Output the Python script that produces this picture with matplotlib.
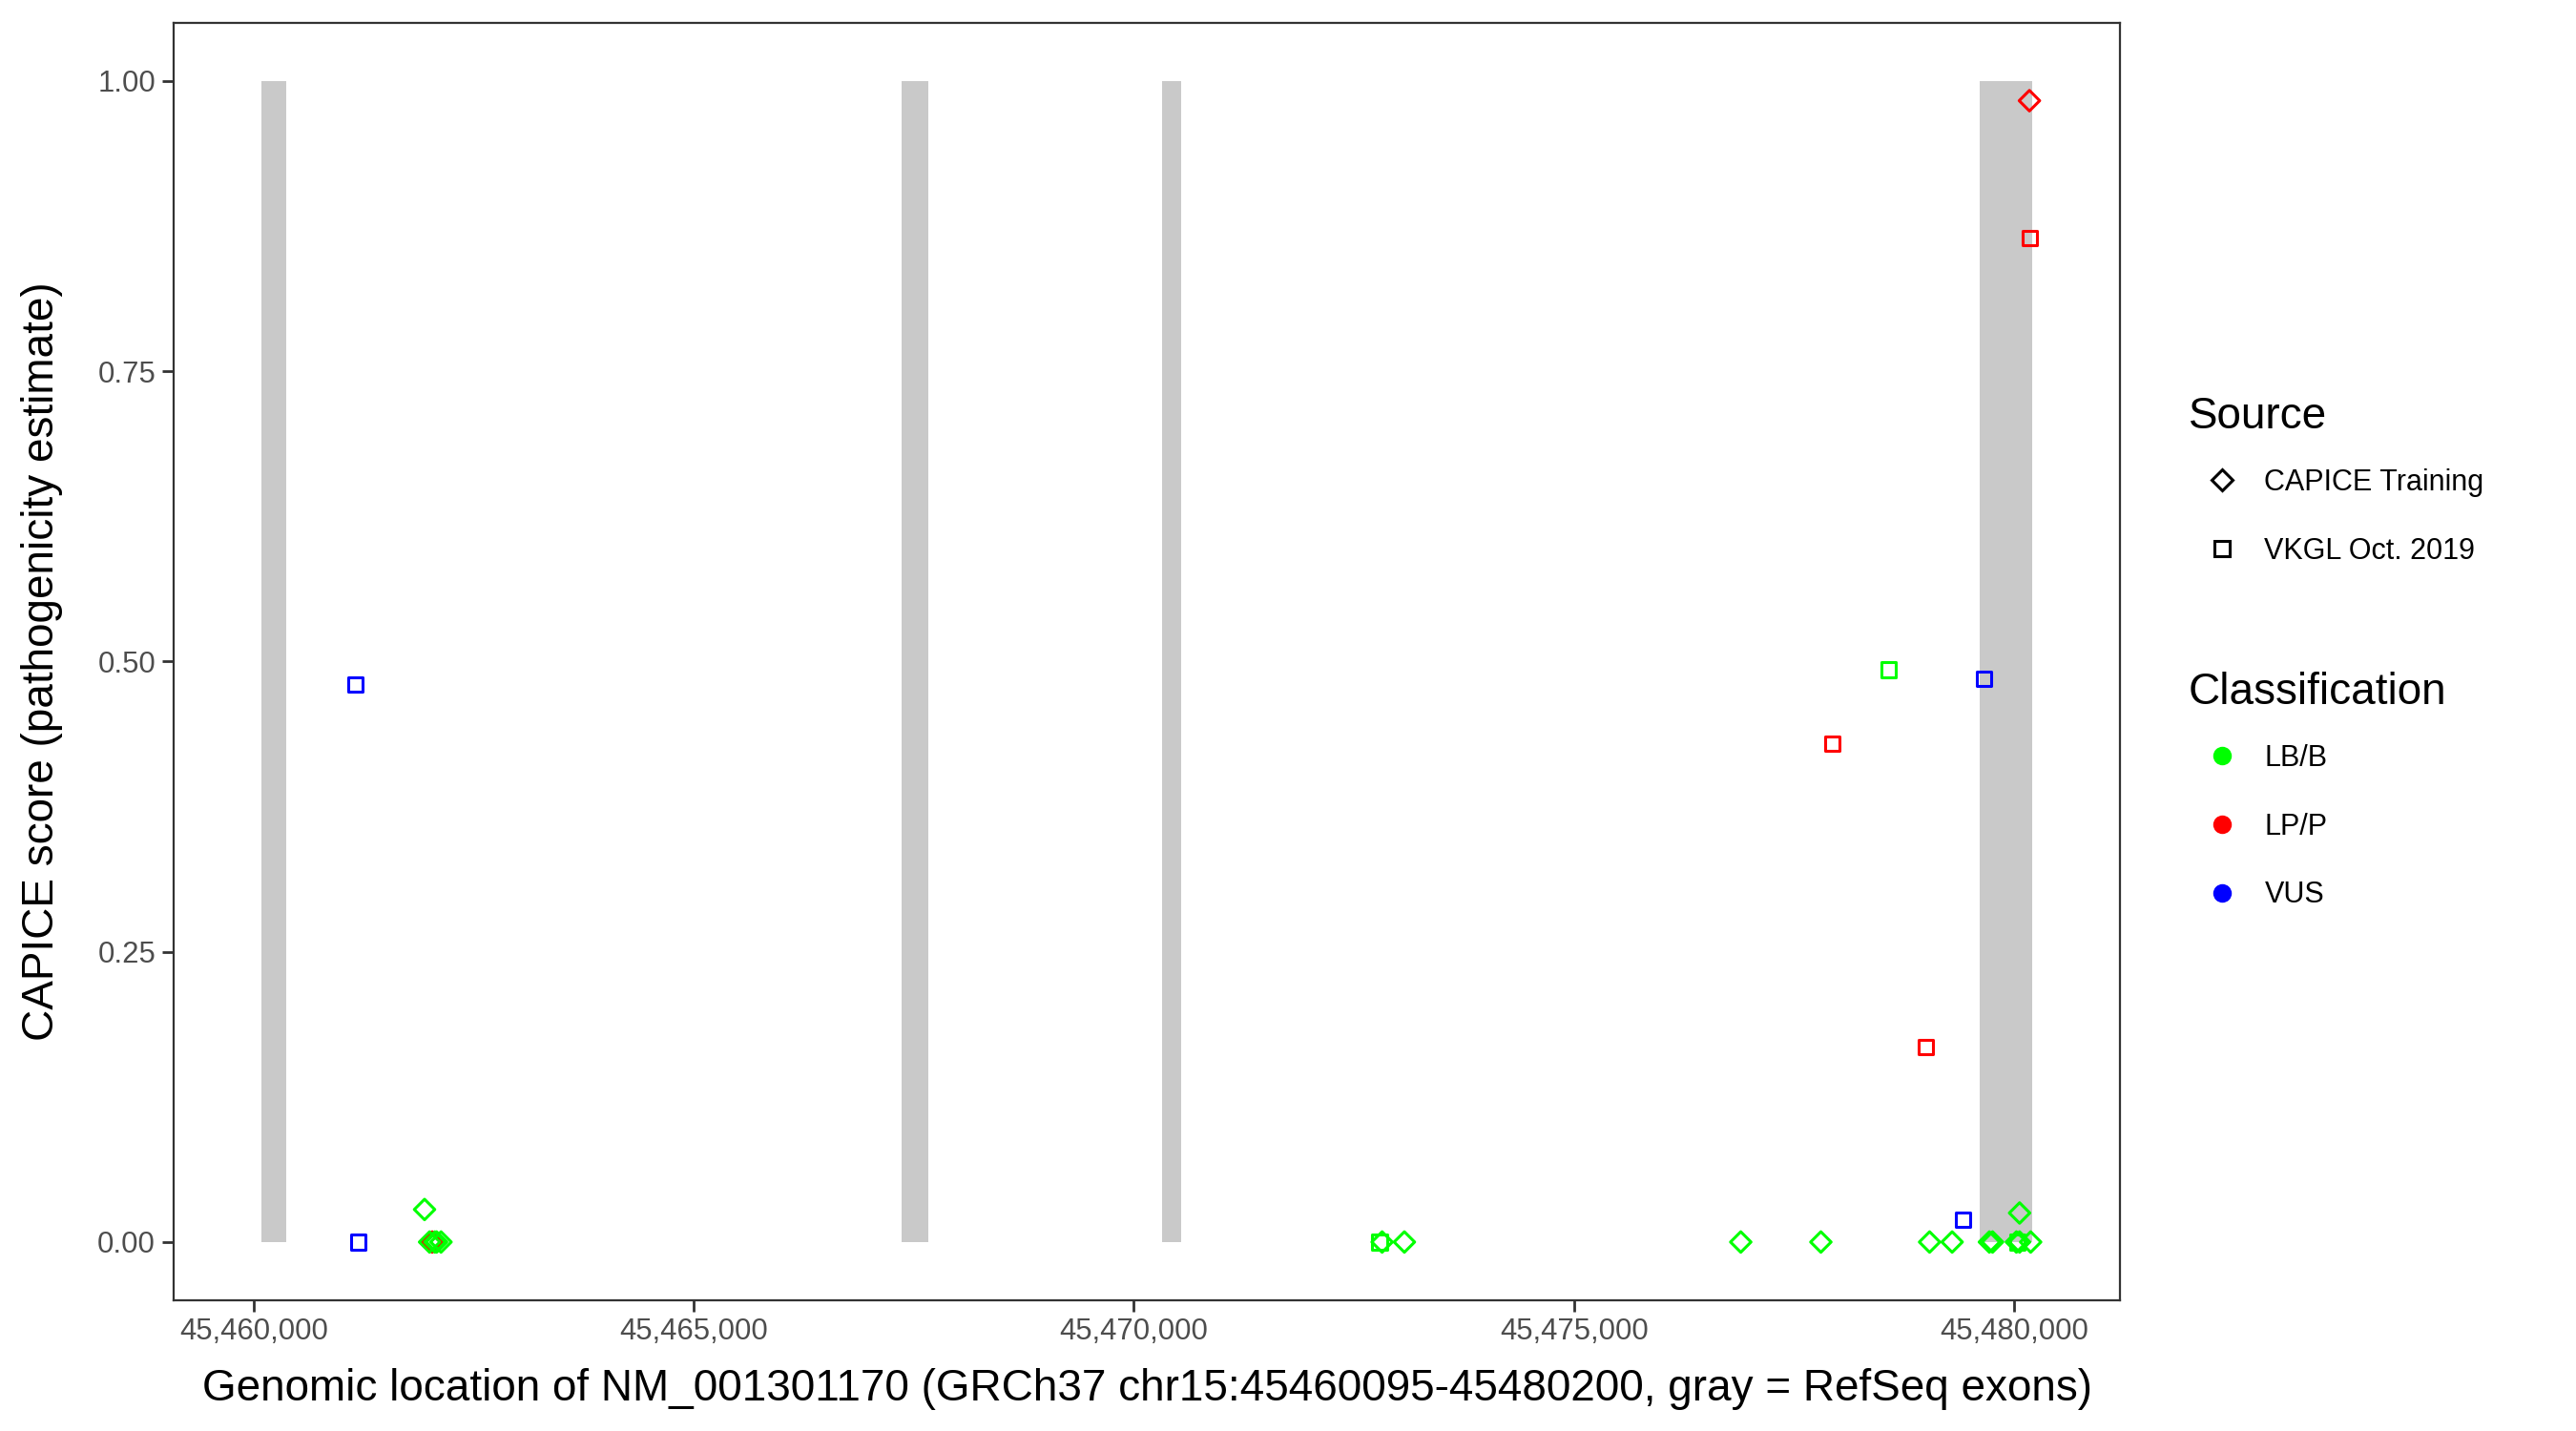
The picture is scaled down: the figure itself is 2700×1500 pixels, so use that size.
import numpy as np
import matplotlib
matplotlib.use("Agg")
import matplotlib.pyplot as plt
from matplotlib.lines import Line2D
from matplotlib.ticker import FuncFormatter, FixedLocator

plt.rcParams["font.family"] = ["Liberation Sans", "DejaVu Sans"]

# RefSeq exons (gray bars)
exon_start = [45460095, 45467367, 45470319, 45479610]
exon_end = [45460375, 45467670, 45470541, 45480200]

# CAPICE training variants (diamonds)
capice_x = [45480173, 45462030, 45461943, 45462000, 45462080, 45462130, 45462060,
            45472820, 45473073, 45476894, 45477804, 45479039, 45479295,
            45479718, 45479754, 45480025, 45480061, 45480061, 45480187]
capice_y = [0.983, 0.0, 0.028, 0.0, 0.0, 0.0, 0.0,
            0.0, 0.0, 0.0, 0.0, 0.0, 0.0,
            0.0, 0.0, 0.0, 0.025, 0.0, 0.0]
capice_cls = ["LP/P", "LP/P", "LB/B", "LB/B", "LB/B", "LB/B", "LB/B",
              "LB/B", "LB/B", "LB/B", "LB/B", "LB/B", "LB/B",
              "LB/B", "LB/B", "LB/B", "LB/B", "LB/B", "LB/B"]

# VKGL Oct. 2019 variants (squares)
vkgl_x = [45461159, 45461192, 45479657, 45479418, 45478570, 45472792, 45480040,
          45477938, 45480173, 45478992]
vkgl_y = [0.480, 0.0, 0.485, 0.019, 0.493, 0.0, 0.0,
          0.429, 0.865, 0.168]
vkgl_cls = ["VUS", "VUS", "VUS", "VUS", "LB/B", "LB/B", "LB/B",
            "LP/P", "LP/P", "LP/P"]

classes = ["LB/B", "LP/P", "VUS"]
colors = {"LB/B": "#00FF00", "LP/P": "#FF0000", "VUS": "#0000FF"}

fig = plt.figure(figsize=(13.5, 7.5), dpi=200)
ax = fig.add_axes([0.0673, 0.0915, 0.8231 - 0.0673, 0.984 - 0.0915])

ax.bar(exon_start, 1.0, width=np.array(exon_end) - np.array(exon_start),
       bottom=0, align="edge", color="#C9C9C9", linewidth=0, zorder=1)

for src_x, src_y, src_cls, mk in [(capice_x, capice_y, capice_cls, "D"),
                                  (vkgl_x, vkgl_y, vkgl_cls, "s")]:
    src_x = np.array(src_x)
    src_y = np.array(src_y)
    src_cls = np.array(src_cls)
    # red first so the green ones lie over it, as in the original
    for c in ["LP/P", "VUS", "LB/B"]:
        m = src_cls == c
        ax.scatter(src_x[m], src_y[m], marker=mk, s=30, facecolors="none",
                   edgecolors=colors[c], linewidths=1.1, zorder=3)

lo, hi = 45460095, 45480200
pad = (hi - lo) * 0.05
ax.set_xlim(lo - pad, hi + pad)
ax.set_ylim(-0.05, 1.05)

ax.xaxis.set_major_locator(FixedLocator([45460000, 45465000, 45470000, 45475000, 45480000]))
ax.xaxis.set_major_formatter(FuncFormatter(lambda v, p: f"{int(v):,}"))
ax.set_yticks([0, 0.25, 0.5, 0.75, 1.0])
ax.yaxis.set_major_formatter(FuncFormatter(lambda v, p: f"{v:.2f}"))

ax.tick_params(axis="both", labelsize=11.2, labelcolor="#4D4D4D", color="#333333",
               length=4.2, width=1.0, pad=2.5)
for s in ax.spines.values():
    s.set_color("#333333")
    s.set_linewidth(0.8)

ax.set_xlabel("Genomic location of NM_001301170 (GRCh37 chr15:45460095-45480200, gray = RefSeq exons)",
              fontsize=16.5, labelpad=8)
ax.set_ylabel("CAPICE score (pathogenicity estimate)", fontsize=16.5, labelpad=13)

# legends: titles as separate texts, entries via fig.legend
fig.text(0.8496, 0.7084, "Source", fontsize=16.5, va="center", ha="left")
src_handles = [Line2D([], [], marker="D", ls="none", ms=5.5, mfc="none", mec="black", mew=1.1),
               Line2D([], [], marker="s", ls="none", ms=5.5, mfc="none", mec="black", mew=1.1)]
fig.legend(src_handles, ["CAPICE Training", "VKGL Oct. 2019"],
           loc="upper left", bbox_to_anchor=(0.8496, 0.6728), frameon=False,
           fontsize=11, borderpad=0, borderaxespad=0, handlelength=2.3,
           handletextpad=0.3, labelspacing=1.37)

fig.text(0.8496, 0.5157, "Classification", fontsize=16.5, va="center", ha="left")
cls_handles = [Line2D([], [], marker="o", ls="none", ms=6, mfc=colors[c], mec=colors[c])
               for c in classes]
fig.legend(cls_handles, classes,
           loc="upper left", bbox_to_anchor=(0.8496, 0.4802), frameon=False,
           fontsize=11, borderpad=0, borderaxespad=0, handlelength=2.3,
           handletextpad=0.3, labelspacing=1.37)

fig.savefig("out.png", dpi=200)
